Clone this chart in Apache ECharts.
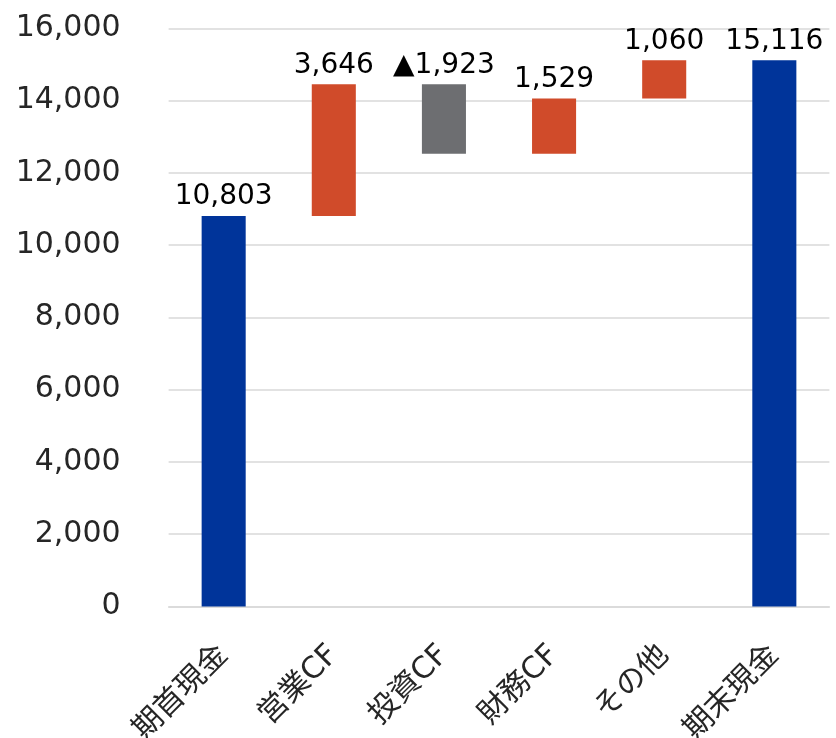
<!DOCTYPE html>
<html>
<head>
<meta charset="utf-8">
<script src="https://cdn.jsdelivr.net/npm/echarts@6/dist/echarts.min.js"></script>
<style>
html,body{margin:0;padding:0;background:#fff;}
#chart{width:836px;height:738px;}
</style>
</head>
<body>
<div id="chart"></div>
<script>
// Data
var categories = ['期首現金', '営業CF', '投資CF', '財務CF', 'その他', '期末現金'];
var values = [10803, 3646, -1923, 1529, 1060, 15116];
var kinds = ['total', 'delta', 'delta', 'delta', 'delta', 'total'];
var yTicks = [0, 2000, 4000, 6000, 8000, 10000, 12000, 14000, 16000];

var COLORS = { total: '#00349A', up: '#D04B2A', down: '#6D6E71' };

// Build waterfall base / height
var bases = [], heights = [], colors = [];
var running = 0;
for (var i = 0; i < values.length; i++) {
  var v = values[i];
  if (kinds[i] === 'total') {
    bases.push(0); heights.push(v); colors.push(COLORS.total);
    running = v;
  } else if (v >= 0) {
    bases.push(running); heights.push(v); colors.push(COLORS.up);
    running += v;
  } else {
    running += v;
    bases.push(running); heights.push(-v); colors.push(COLORS.down);
  }
}

function fmt(n) {
  return String(n).replace(/\B(?=(\d{3})+(?!\d))/g, ',');
}

var FONT = "'DejaVu Sans', 'Noto Sans CJK JP', sans-serif";

var chart = echarts.init(document.getElementById('chart'), null, { renderer: 'canvas' });
chart.setOption({
  animation: false,
  backgroundColor: '#fff',
  grid: { left: 168.6, right: 6.6, top: 28.3, bottom: 131.5, containLabel: false, outerBoundsMode: 'none' },
  xAxis: {
    type: 'category',
    data: categories,
    axisLine: { show: true, lineStyle: { color: '#d9d9d9', width: 1.5 } },
    axisTick: { show: false },
    axisLabel: {
      interval: 0,
      rotate: 45,
      margin: 44,
      fontSize: 30,
      color: '#262626',
      fontFamily: FONT
    }
  },
  yAxis: {
    type: 'value',
    min: yTicks[0],
    max: yTicks[yTicks.length - 1],
    interval: yTicks[1] - yTicks[0],
    axisLine: { show: false },
    axisTick: { show: false },
    splitLine: { lineStyle: { color: '#d9d9d9', width: 1.5 } },
    axisLabel: {
      margin: 48,
      fontSize: 30,
      color: '#262626',
      fontFamily: FONT,
      formatter: function (v) { return fmt(v); }
    }
  },
  series: [
    {
      type: 'bar',
      stack: 'wf',
      data: bases,
      itemStyle: { color: 'transparent' },
      emphasis: { disabled: true },
      barWidth: '40%',
      silent: true
    },
    {
      type: 'bar',
      stack: 'wf',
      barWidth: '40%',
      data: heights.map(function (h, i) {
        return { value: h, itemStyle: { color: colors[i] } };
      }),
      label: {
        show: true,
        position: 'top',
        distance: 5,
        fontSize: 28,
        color: '#000',
        fontFamily: FONT,
        formatter: function (p) {
          var v = values[p.dataIndex];
          return v < 0 ? '▲' + fmt(-v) : fmt(v);
        }
      }
    }
  ]
});
</script>
</body>
</html>
